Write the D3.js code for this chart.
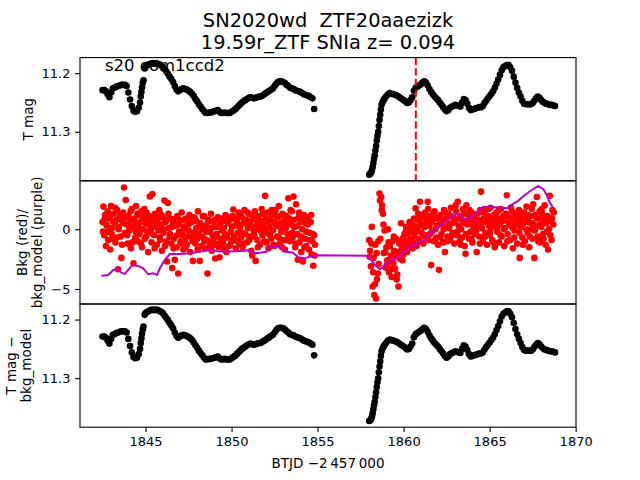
<!DOCTYPE html>
<html>
<head>
<meta charset="utf-8">
<script src="https://cdn.jsdelivr.net/npm/d3@7"></script>
<style>
body { margin: 0; background: #fff; }
text { font-family: "DejaVu Sans", sans-serif; }
</style>
</head>
<body>
<svg id="chart" width="640" height="480"></svg>
<script>
// title / annotation text
var titleLines = ["SN2020wd  ZTF20aaezizk", "19.59r_ZTF SNIa z= 0.094"];
var sectorLabel = "s20 com1ccd2";
var markTime = 1860.71; // red dashed line

// tick values
var xTicks = [1845, 1850, 1855, 1860, 1865, 1870];
var magTicks = [11.2, 11.3];
var bkgTicks = [0, -5];

// T mag, first orbit  [BTJD, mag]
var magSeg1 = [
[1842.50,11.229],[1842.60,11.229],[1842.70,11.231],[1842.80,11.236],[1842.90,11.241],[1843.00,11.233],
[1843.10,11.226],[1843.20,11.225],[1843.30,11.223],[1843.40,11.222],[1843.50,11.221],[1843.60,11.220],
[1843.70,11.220],[1843.80,11.220],[1843.90,11.222],[1844.00,11.233],[1844.10,11.245],[1844.20,11.256],
[1844.30,11.264],[1844.40,11.266],[1844.50,11.265],[1844.60,11.259],[1844.68,11.250],[1844.72,11.240],
[1844.76,11.232],[1844.80,11.224],[1844.84,11.217],[1844.88,11.212],[1844.95,11.192],[1845.00,11.189],
[1845.10,11.187],[1845.20,11.185],[1845.30,11.184],[1845.40,11.183],[1845.50,11.184],[1845.60,11.183],
[1845.70,11.184],[1845.80,11.185],[1845.90,11.187],[1846.00,11.189],[1846.10,11.193],[1846.20,11.197],
[1846.30,11.201],[1846.40,11.206],[1846.50,11.210],[1846.60,11.215],[1846.70,11.222],[1846.80,11.228],
[1846.90,11.231],[1847.00,11.229],[1847.10,11.227],[1847.20,11.226],[1847.30,11.227],[1847.40,11.228],
[1847.50,11.230],[1847.60,11.232],[1847.70,11.235],[1847.80,11.239],[1847.90,11.244],[1848.00,11.248],
[1848.10,11.253],[1848.20,11.257],[1848.30,11.261],[1848.40,11.265],[1848.50,11.268],[1848.60,11.268],
[1848.70,11.267],[1848.80,11.267],[1848.90,11.266],[1849.00,11.265],[1849.10,11.264],[1849.20,11.263],
[1849.30,11.266],[1849.40,11.268],[1849.50,11.268],[1849.60,11.267],[1849.70,11.268],[1849.80,11.268],
[1849.90,11.268],[1850.00,11.266],[1850.10,11.264],[1850.20,11.262],[1850.30,11.259],[1850.40,11.256],
[1850.50,11.253],[1850.60,11.250],[1850.70,11.248],[1850.80,11.246],[1850.90,11.244],[1851.00,11.242],
[1851.10,11.241],[1851.20,11.242],[1851.30,11.243],[1851.40,11.242],[1851.50,11.241],[1851.60,11.240],
[1851.70,11.240],[1851.80,11.238],[1851.90,11.236],[1852.00,11.234],[1852.10,11.232],[1852.20,11.230],
[1852.30,11.228],[1852.40,11.226],[1852.50,11.222],[1852.60,11.218],[1852.70,11.215],[1852.80,11.214],
[1852.90,11.214],[1853.00,11.215],[1853.10,11.217],[1853.20,11.220],[1853.30,11.222],[1853.40,11.225],
[1853.50,11.226],[1853.60,11.227],[1853.70,11.229],[1853.80,11.230],[1853.90,11.231],[1854.00,11.232],
[1854.10,11.234],[1854.20,11.236],[1854.30,11.237],[1854.40,11.238],[1854.50,11.239],[1854.60,11.241],
[1854.70,11.243],[1854.80,11.261]
];

// T mag, second orbit
var magSeg2 = [
[1858.00,11.373],[1858.04,11.372],[1858.08,11.371],[1858.12,11.369],[1858.16,11.365],[1858.20,11.360],
[1858.24,11.353],[1858.28,11.346],[1858.32,11.340],[1858.36,11.332],[1858.40,11.324],[1858.44,11.315],
[1858.48,11.307],[1858.52,11.300],[1858.56,11.290],[1858.60,11.280],[1858.64,11.271],[1858.68,11.262],
[1858.72,11.254],[1858.78,11.249],[1858.84,11.246],[1858.90,11.243],[1859.00,11.239],[1859.10,11.236],
[1859.20,11.234],[1859.30,11.235],[1859.40,11.236],[1859.50,11.237],[1859.60,11.238],[1859.70,11.240],
[1859.80,11.242],[1859.90,11.244],[1860.00,11.246],[1860.10,11.248],[1860.20,11.251],[1860.30,11.250],
[1860.40,11.246],[1860.50,11.241],[1860.60,11.230],[1860.70,11.225],[1860.80,11.223],[1860.90,11.221],
[1861.00,11.219],[1861.10,11.216],[1861.20,11.214],[1861.30,11.216],[1861.40,11.221],[1861.50,11.227],
[1861.60,11.232],[1861.70,11.236],[1861.80,11.240],[1861.90,11.243],[1862.00,11.246],[1862.10,11.250],
[1862.20,11.254],[1862.30,11.258],[1862.40,11.262],[1862.50,11.265],[1862.60,11.263],[1862.70,11.259],
[1862.80,11.257],[1862.90,11.256],[1863.00,11.254],[1863.10,11.255],[1863.20,11.256],[1863.30,11.257],
[1863.40,11.250],[1863.50,11.244],[1863.60,11.246],[1863.70,11.252],[1863.80,11.259],[1863.90,11.263],
[1864.00,11.262],[1864.10,11.261],[1864.20,11.260],[1864.30,11.259],[1864.40,11.258],[1864.50,11.258],
[1864.60,11.256],[1864.70,11.251],[1864.80,11.247],[1864.90,11.243],[1865.00,11.239],[1865.10,11.235],
[1865.20,11.231],[1865.30,11.225],[1865.40,11.218],[1865.50,11.211],[1865.60,11.203],[1865.70,11.195],
[1865.80,11.190],[1865.90,11.188],[1866.00,11.186],[1866.10,11.186],[1866.20,11.190],[1866.30,11.196],
[1866.40,11.206],[1866.50,11.216],[1866.60,11.225],[1866.70,11.233],[1866.80,11.240],[1866.90,11.247],
[1867.00,11.252],[1867.10,11.253],[1867.20,11.253],[1867.30,11.253],[1867.40,11.253],[1867.50,11.251],
[1867.60,11.247],[1867.70,11.243],[1867.80,11.240],[1867.90,11.242],[1868.00,11.246],[1868.10,11.249],
[1868.20,11.251],[1868.30,11.252],[1868.40,11.253],[1868.50,11.254],[1868.60,11.254],[1868.70,11.255],
[1868.80,11.256]
];

// bottom panel (T mag - bkg_model) reads the same as the top panel to within a pixel
var subSeg1 = magSeg1;
var subSeg2 = magSeg2;

// background flux, first orbit  [BTJD, bkg]
var bkgSeg1 = [
[1842.50,0.6],[1842.55,1.9],[1842.60,-0.5],[1842.65,1.2],[1842.70,-1.4],[1842.75,0.3],[1842.80,1.5],[1842.85,-0.2],[1842.90,0.9],[1842.95,-1.7],
[1843.00,1.95],[1843.05,0.1],[1843.10,-0.8],[1843.15,1.3],[1843.20,0.5],[1843.25,-1.1],[1843.30,0.8],[1843.35,1.6],[1843.40,-3.35],[1843.45,0.2],
[1843.50,1.0],[1843.55,-0.6],[1843.60,-2.4],[1843.65,0.7],[1843.70,1.4],[1843.75,3.5],[1843.80,-0.3],[1843.85,2.45],[1843.90,0.4],[1843.95,-1.2],
[1844.00,1.1],[1844.05,-0.1],[1844.10,0.8],[1844.15,-1.6],[1844.20,1.7],[1844.25,0.2],[1844.30,-2.85],[1844.35,0.9],[1844.40,-0.7],[1844.45,1.95],
[1844.50,0.3],[1844.55,-1.0],[1844.60,1.2],[1844.65,-0.4],[1844.70,0.6],[1844.75,1.5],[1844.80,-1.5],[1844.85,0.0],[1844.90,1.0],[1844.95,-0.8],
[1845.00,0.5],[1845.05,1.4],[1845.10,-0.2],[1845.15,-1.9],[1845.20,0.7],[1845.25,2.75],[1845.30,0.1],[1845.35,-1.1],[1845.40,2.95],[1845.45,0.9],
[1845.50,-0.5],[1845.55,1.3],[1845.60,0.2],[1845.65,-1.3],[1845.70,0.8],[1845.75,-0.1],[1845.80,1.6],[1845.85,-0.9],[1845.90,0.4],[1845.95,-1.8],
[1846.00,1.0],[1846.05,-0.3],[1846.10,2.4],[1846.15,0.6],[1846.20,-1.0],[1846.25,-2.7],[1846.30,2.2],[1846.35,0.1],[1846.40,-0.6],[1846.45,0.9],
[1846.50,-1.2],[1846.55,-3.25],[1846.60,0.5],[1846.65,-0.8],[1846.70,-2.55],[1846.75,0.3],[1846.80,-1.5],[1846.85,1.1],[1846.90,-3.7],[1846.95,-0.2],
[1847.00,0.7],[1847.05,-1.0],[1847.10,1.4],[1847.15,-0.5],[1847.20,-1.7],[1847.25,0.2],[1847.30,-0.9],[1847.35,0.9],[1847.40,-1.3],[1847.45,0.4],
[1847.50,-0.1],[1847.55,1.2],[1847.60,-1.9],[1847.65,-0.6],[1847.70,0.6],[1847.75,-2.65],[1847.80,-0.3],[1847.85,1.0],[1847.90,-1.2],[1847.95,0.1],
[1848.00,-0.8],[1848.05,1.5],[1848.10,-0.4],[1848.15,-2.65],[1848.20,0.5],[1848.25,-1.4],[1848.30,0.0],[1848.35,-0.7],[1848.40,1.1],[1848.45,-1.6],
[1848.50,0.3],[1848.55,-0.9],[1848.60,-3.7],[1848.65,0.8],[1848.70,-1.1],[1848.75,-0.2],[1848.80,1.3],[1848.85,-1.8],[1848.90,-0.5],[1848.95,0.6],
[1849.00,-1.3],[1849.05,-2.45],[1849.10,0.2],[1849.15,-0.6],[1849.20,1.0],[1849.25,-1.5],[1849.30,-2.35],[1849.35,0.4],[1849.40,-0.8],[1849.45,0.9],
[1849.50,-1.1],[1849.55,0.1],[1849.60,-0.4],[1849.65,1.2],[1849.70,-1.9],[1849.75,-0.7],[1849.80,0.5],[1849.85,-1.4],[1849.90,0.8],[1849.95,-0.2],
[1850.00,-1.0],[1850.05,1.1],[1850.10,1.65],[1850.15,-0.6],[1850.20,0.3],[1850.25,-1.6],[1850.30,0.7],[1850.35,-0.3],[1850.40,1.4],[1850.45,-1.2],
[1850.50,0.2],[1850.55,-0.7],[1850.60,1.0],[1850.65,-1.5],[1850.70,0.5],[1850.75,1.6],[1850.80,-0.4],[1850.85,0.8],[1850.90,-1.1],[1850.95,0.1],
[1851.00,1.3],[1851.05,-0.6],[1851.10,0.6],[1851.15,-1.8],[1851.20,-2.2],[1851.25,0.9],[1851.30,-0.2],[1851.35,1.5],[1851.40,-2.65],[1851.45,0.3],
[1851.50,-0.9],[1851.55,1.1],[1851.60,0.0],[1851.65,-1.3],[1851.70,0.7],[1851.75,1.7],[1851.80,-0.5],[1851.85,0.4],[1851.90,-1.0],[1851.95,2.8],
[1852.00,0.9],[1852.05,-0.3],[1852.10,1.4],[1852.15,-1.6],[1852.20,0.2],[1852.25,0.8],[1852.30,-0.8],[1852.35,1.2],[1852.40,-0.1],[1852.45,0.6],
[1852.50,-1.4],[1852.55,1.6],[1852.60,0.3],[1852.65,-0.6],[1852.70,1.0],[1852.75,1.95],[1852.80,-1.2],[1852.85,0.5],[1852.90,-0.2],[1852.95,1.3],
[1853.00,-0.9],[1853.05,0.7],[1853.10,-1.7],[1853.15,0.1],[1853.20,1.1],[1853.25,-0.4],[1853.30,2.6],[1853.35,0.9],[1853.40,-1.0],[1853.45,0.4],
[1853.50,1.5],[1853.55,-0.7],[1853.60,2.75],[1853.65,0.2],[1853.70,-1.5],[1853.75,2.1],[1853.80,-0.4],[1853.85,-2.55],[1853.90,1.0],[1853.95,-1.1],
[1854.00,0.6],[1854.05,-1.9],[1854.10,0.0],[1854.15,-2.7],[1854.20,1.2],[1854.25,-0.8],[1854.30,0.5],[1854.35,-1.4],[1854.40,0.8],[1854.45,1.0],
[1854.50,-1.7],[1854.55,-0.3],[1854.60,0.6],[1854.65,-2.1],[1854.70,-1.0],[1854.75,-3.05],[1854.80,-0.5],[1854.85,-1.3],
// in-between cadences
[1842.53,-0.2],[1842.63,0.9],[1842.73,0.4],[1842.83,-0.9],[1842.93,1.1],[1843.03,-0.4],[1843.13,0.6],[1843.23,1.8],[1843.33,-0.7],[1843.43,0.0],
[1843.53,1.2],[1843.63,-1.3],[1843.73,0.5],[1843.83,1.0],[1843.93,-0.5],[1844.03,0.3],[1844.13,1.5],[1844.23,-1.1],[1844.33,0.7],[1844.43,-0.2],
[1844.53,1.3],[1844.63,0.1],[1844.73,-1.2],[1844.83,0.8],[1844.93,1.7],[1845.03,-0.6],[1845.13,0.4],[1845.23,1.1],[1845.33,-0.3],[1845.43,0.6],
[1845.53,-1.6],[1845.63,1.0],[1845.73,0.3],[1845.83,-0.7],[1845.93,1.2],[1846.03,0.0],[1846.13,-1.4],[1846.23,0.8],[1846.33,1.3],[1846.43,-0.4],
[1846.53,0.2],[1846.63,-1.6],[1846.73,0.9],[1846.83,-0.5],[1846.93,0.4],[1847.03,-1.2],[1847.13,-0.2],[1847.23,0.8],[1847.33,-1.5],[1847.43,-0.6],
[1847.53,0.5],[1847.63,1.0],[1847.73,-1.0],[1847.83,-0.3],[1847.93,0.7],[1848.03,-1.7],[1848.13,0.3],[1848.23,-0.6],[1848.33,1.1],[1848.43,-1.0],
[1848.53,-0.2],[1848.63,0.6],[1848.73,-1.5],[1848.83,0.1],[1848.93,-0.9],[1849.03,0.8],[1849.13,-0.4],[1849.23,-1.2],[1849.33,0.5],[1849.43,-0.1],
[1849.53,-1.6],[1849.63,0.7],[1849.73,-0.5],[1849.83,1.0],[1849.93,-1.3],[1850.03,0.2],[1850.13,-0.8],[1850.23,0.9],[1850.33,-1.0],[1850.43,0.4],
[1850.53,1.2],[1850.63,-0.3],[1850.73,-1.2],[1850.83,0.6],[1850.93,1.4],[1851.03,-0.9],[1851.13,0.2],[1851.23,1.0],[1851.33,-0.6],[1851.43,0.8],
[1851.53,-1.5],[1851.63,0.4],[1851.73,-0.2],[1851.83,1.3],[1851.93,0.1],[1852.03,-1.1],[1852.13,0.7],[1852.23,-0.5],[1852.33,1.6],[1852.43,-1.3],
[1852.53,0.5],[1852.63,1.1],[1852.73,-0.7],[1852.83,0.2],[1852.93,-1.5],[1853.03,1.2],[1853.13,0.4],[1853.23,-0.9],[1853.33,0.7],[1853.43,1.6],
[1853.53,-0.3],[1853.63,0.8],[1853.73,-1.2],[1853.83,0.3],[1853.93,1.4],[1854.03,-0.6],[1854.13,0.9],[1854.23,-1.5],[1854.33,-0.2],[1854.43,0.4],
[1854.53,-0.9],[1854.63,1.2],[1854.73,-0.4],[1854.83,-2.2]
];

// background flux, second orbit
var bkgSeg2 = [
[1858.00,-0.9],[1858.05,-1.8],[1858.10,-3.1],[1858.15,0.2],[1858.20,-4.8],[1858.25,-2.4],[1858.30,-5.5],[1858.35,-1.3],[1858.40,-5.8],[1858.45,-4.2],
[1858.50,-3.7],[1858.55,-2.9],[1858.60,3.0],[1858.65,-0.8],[1858.70,2.7],[1858.75,2.0],[1858.80,1.3],[1858.85,-2.0],[1858.90,-0.1],[1858.95,-3.2],
[1859.00,-1.5],[1859.05,-2.6],[1859.10,0.0],[1859.15,-3.6],[1859.20,-1.4],[1859.25,-2.2],[1859.30,-4.0],[1859.35,-1.0],[1859.40,-2.8],[1859.45,-1.8],
[1859.50,-3.3],[1859.55,-0.8],[1859.60,-4.2],[1859.65,-2.0],[1859.70,-4.8],[1859.75,-1.2],[1859.80,-2.5],[1859.85,0.5],[1859.90,-1.6],[1859.95,-0.75],
[1860.00,-2.1],[1860.05,-0.4],[1860.10,-1.3],[1860.15,0.2],[1860.20,-1.9],[1860.25,-0.35],[1860.30,-0.9],[1860.35,0.6],[1860.40,-1.5],[1860.45,-0.2],
[1860.50,0.4],[1860.55,-1.1],[1860.60,0.9],[1860.65,-0.6],[1860.70,1.75],[1860.75,-1.4],[1860.80,0.1],[1860.85,1.3],[1860.90,-0.8],[1860.95,2.3],
[1861.00,0.5],[1861.05,-0.3],[1861.10,1.0],[1861.15,-1.2],[1861.20,0.2],[1861.25,1.4],[1861.30,-0.5],[1861.35,0.7],[1861.40,2.3],[1861.45,-0.9],
[1861.50,0.3],[1861.55,1.1],[1861.60,-3.0],[1861.65,-0.2],[1861.70,0.8],[1861.75,-1.0],[1861.80,1.5],[1861.85,0.0],[1861.90,-0.7],[1861.95,0.9],
[1862.00,-1.3],[1862.05,-3.4],[1862.10,0.4],[1862.15,1.2],[1862.20,-0.4],[1862.25,0.6],[1862.30,-1.1],[1862.35,1.6],[1862.40,-1.9],[1862.45,0.2],
[1862.50,0.9],[1862.55,-0.6],[1862.60,1.3],[1862.65,0.1],[1862.70,-0.9],[1862.75,1.8],[1862.80,0.5],[1862.85,-0.3],[1862.90,1.0],[1862.95,-1.2],
[1863.00,0.7],[1863.05,1.5],[1863.10,-0.5],[1863.15,2.3],[1863.20,0.3],[1863.25,-1.0],[1863.30,1.1],[1863.35,0.0],[1863.40,-0.7],[1863.45,1.7],
[1863.50,0.6],[1863.55,-1.4],[1863.60,-2.05],[1863.65,2.0],[1863.70,0.4],[1863.75,1.2],[1863.80,-0.8],[1863.85,0.8],[1863.90,-0.2],[1863.95,1.4],
[1864.00,-1.1],[1864.05,0.5],[1864.10,1.0],[1864.15,-0.4],[1864.20,0.2],[1864.25,-1.9],[1864.30,1.3],[1864.35,0.7],[1864.40,-0.6],[1864.45,1.6],
[1864.50,3.15],[1864.55,0.1],[1864.60,-1.0],[1864.65,0.9],[1864.70,1.5],[1864.75,-0.3],[1864.80,0.6],[1864.85,-1.3],[1864.90,1.1],[1864.95,0.3],
[1865.00,-0.5],[1865.05,1.8],[1865.10,0.8],[1865.15,-0.9],[1865.20,0.2],[1865.25,1.2],[1865.30,-1.5],[1865.35,0.5],[1865.40,1.4],[1865.45,-0.2],
[1865.50,0.9],[1865.55,-1.1],[1865.60,0.4],[1865.65,1.7],[1865.70,-0.6],[1865.75,0.7],[1865.80,1.1],[1865.85,-1.4],[1865.90,0.1],[1865.95,1.3],
[1866.00,2.85],[1866.05,-0.4],[1866.10,0.6],[1866.15,1.0],[1866.20,-0.9],[1866.25,0.3],[1866.30,1.5],[1866.35,-1.6],[1866.40,0.8],[1866.45,-0.1],
[1866.50,1.2],[1866.55,0.4],[1866.60,-1.2],[1866.65,0.9],[1866.70,1.6],[1866.75,-2.4],[1866.80,0.2],[1866.85,1.0],[1866.90,-0.7],[1866.95,0.5],
[1867.00,1.4],[1867.05,-1.0],[1867.10,0.7],[1867.15,1.9],[1867.20,-0.3],[1867.25,0.6],[1867.30,-1.5],[1867.35,1.1],[1867.40,0.0],[1867.45,1.7],
[1867.50,-0.8],[1867.55,0.4],[1867.60,-2.4],[1867.65,1.2],[1867.70,0.3],[1867.75,2.7],[1867.80,-0.6],[1867.85,0.9],[1867.90,1.5],[1867.95,-1.1],
[1868.00,0.2],[1868.05,1.3],[1868.10,-0.4],[1868.15,0.8],[1868.20,2.0],[1868.25,-1.3],[1868.30,0.5],[1868.35,1.1],[1868.40,-1.7],[1868.45,0.0],
[1868.50,2.8],[1868.55,0.7],[1868.60,-0.9],[1868.65,1.6],[1868.70,0.4],
// in-between cadences
[1858.03,-2.3],[1858.13,-1.2],[1858.23,-3.6],[1858.33,-4.6],[1858.43,-2.0],[1858.53,-1.0],[1858.63,2.4],[1858.73,1.6],[1858.83,0.4],[1858.93,-1.9],
[1859.03,-3.0],[1859.13,-1.1],[1859.23,-2.7],[1859.33,-3.3],[1859.43,-0.6],[1859.53,-2.3],[1859.63,-3.8],[1859.73,-1.9],[1859.83,-1.0],[1859.93,-2.6],
[1860.03,-1.5],[1860.13,-0.2],[1860.23,-1.1],[1860.33,0.1],[1860.43,-0.8],[1860.53,-1.6],[1860.63,0.3],[1860.73,-0.2],[1860.83,0.8],[1860.93,-1.0],
[1861.03,1.2],[1861.13,0.3],[1861.23,-0.6],[1861.33,0.9],[1861.43,1.7],[1861.53,-0.4],[1861.63,0.6],[1861.73,1.3],[1861.83,-0.9],[1861.93,0.3],
[1862.03,1.0],[1862.13,-0.7],[1862.23,0.8],[1862.33,0.0],[1862.43,1.4],[1862.53,-1.0],[1862.63,0.4],[1862.73,1.1],[1862.83,-0.5],[1862.93,0.6],
[1863.03,2.0],[1863.13,-0.2],[1863.23,0.9],[1863.33,-1.3],[1863.43,0.5],[1863.53,1.3],[1863.63,-0.4],[1863.73,0.7],[1863.83,1.6],[1863.93,-0.8],
[1864.03,0.3],[1864.13,1.2],[1864.23,-0.1],[1864.33,0.8],[1864.43,-1.2],[1864.53,0.5],[1864.63,1.4],[1864.73,-0.6],[1864.83,0.9],[1864.93,1.7],
[1865.03,-0.2],[1865.13,0.4],[1865.23,-1.1],[1865.33,1.0],[1865.43,0.2],[1865.53,1.6],[1865.63,-0.5],[1865.73,0.9],[1865.83,0.0],[1865.93,1.1],
[1866.03,-1.0],[1866.13,0.5],[1866.23,1.8],[1866.33,0.1],[1866.43,-0.7],[1866.53,0.7],[1866.63,1.3],[1866.73,-0.3],[1866.83,0.6],[1866.93,-1.3],
[1867.03,0.8],[1867.13,0.0],[1867.23,1.2],[1867.33,-0.6],[1867.43,0.5],[1867.53,2.1],[1867.63,-0.1],[1867.73,0.9],[1867.83,-1.0],[1867.93,0.4],
[1868.03,1.7],[1868.13,-0.8],[1868.23,0.6],[1868.33,-0.2],[1868.43,1.0],[1868.53,-0.5],[1868.63,0.9],[1868.73,1.4]
];

// bkg_model (purple line)
var bkgModel = [
[1842.44,-3.89],[1842.83,-3.83],[1843.12,-3.41],[1843.41,-3.35],[1843.60,-3.63],[1843.80,-3.74],[1843.99,-3.41],
[1844.24,-2.99],[1844.57,-3.07],[1844.86,-3.27],[1845.15,-3.77],[1845.44,-3.69],[1845.67,-3.83],[1845.83,-3.27],
[1846.12,-2.57],[1846.41,-2.07],[1846.99,-2.07],[1847.58,-2.01],[1848.16,-1.88],[1848.55,-1.79],[1848.84,-1.65],
[1849.13,-1.84],[1849.71,-1.88],[1850.29,-1.84],[1850.77,-1.79],[1851.06,-1.73],[1851.26,-2.01],[1851.64,-1.96],
[1852.03,-1.88],[1852.23,-1.40],[1852.61,-1.40],[1852.91,-1.54],[1853.20,-1.88],[1853.58,-1.96],[1853.87,-2.35],
[1854.26,-2.43],[1854.55,-2.29],[1854.94,-2.18],[1857.85,-2.21],[1858.04,-2.43],[1858.33,-2.99],[1858.62,-3.35],
[1858.78,-3.18],[1859.01,-2.80],[1859.40,-2.51],[1859.78,-2.24],[1860.08,-1.88],[1860.37,-1.46],[1860.66,-1.32],
[1860.95,-1.04],[1861.24,-0.90],[1861.53,-0.34],[1861.92,0.08],[1862.30,0.50],[1862.69,0.92],[1863.04,1.34],
[1863.37,1.01],[1863.66,0.78],[1863.95,1.06],[1864.24,1.34],[1864.63,1.89],[1865.02,1.84],[1865.50,1.84],
[1865.99,1.76],[1866.28,2.04],[1866.67,2.40],[1867.05,2.87],[1867.44,3.29],[1867.83,3.63],[1868.12,3.35],
[1868.32,2.87],[1868.47,2.31],[1868.66,1.89]
];

var svg = d3.select("#chart");
var mLeft = 80, mRight = 576, mTop = 57.6, mBottom = 427.2;
var ph = (mBottom - mTop) / 3;
var dotR = 3.3;

var x = d3.scaleLinear().domain([1841.19, 1870.02]).range([mLeft, mRight]);

// three stacked panels sharing the x axis
var panels = [
	{ y0: mTop,          domain: [11.3835, 11.1735], ticks: magTicks, fmt: d3.format(".1f"), label: ["T mag"],                           lx: [33] },
	{ y0: mTop + ph,     domain: [-6.26, 4.06],      ticks: bkgTicks, fmt: d3.format("d"),   label: ["Bkg (red)/", "bkg_model (purple)"], lx: [26.5, 42] },
	{ y0: mTop + 2 * ph, domain: [11.3835, 11.1735], ticks: magTicks, fmt: d3.format(".1f"), label: ["T mag \u2212", "bkg_model"],       lx: [15.5, 31] }
];

panels.forEach(function(p, i) {
	p.y = d3.scaleLinear().domain(p.domain).range([p.y0 + ph, p.y0]);
	svg.append("clipPath").attr("id", "clip" + i)
		.append("rect").attr("x", mLeft).attr("y", p.y0).attr("width", mRight - mLeft).attr("height", ph);
	p.g = svg.append("g").attr("clip-path", "url(#clip" + i + ")");

	var ax = svg.append("g").attr("transform", "translate(" + mLeft + ",0)")
		.call(d3.axisLeft(p.y).tickValues(p.ticks).tickFormat(p.fmt).tickSize(4.9).tickPadding(4.6));
	ax.select(".domain").remove();
	ax.selectAll("line").attr("stroke", "#000").attr("stroke-width", 1.1);
	ax.selectAll("text").attr("font-size", "13px").attr("font-family", "DejaVu Sans").attr("fill", "#000");

	var cy = p.y0 + ph / 2;
	p.label.forEach(function(s, k) {
		svg.append("text")
			.attr("transform", "translate(" + p.lx[k] + "," + cy + ") rotate(-90)")
			.attr("text-anchor", "middle")
			.attr("font-size", "13.5px")
			.text(s);
	});
});

function dots(g, data, y, color) {
	g.selectAll(null).data(data).enter().append("circle")
		.attr("cx", function(d) { return x(d[0]); })
		.attr("cy", function(d) { return y(d[1]); })
		.attr("r", dotR)
		.attr("fill", color);
}

// panel 1: light curve + dashed marker
dots(panels[0].g, magSeg1.concat(magSeg2), panels[0].y, "#000");
panels[0].g.append("line")
	.attr("x1", x(markTime)).attr("x2", x(markTime))
	.attr("y1", mTop).attr("y2", mTop + ph)
	.attr("stroke", "#ff0000").attr("stroke-width", 2)
	.attr("stroke-dasharray", "7.4,3.2");

// panel 2: background + model
dots(panels[1].g, bkgSeg1.concat(bkgSeg2), panels[1].y, "#ff0000");
panels[1].g.append("path")
	.datum(bkgModel)
	.attr("fill", "none")
	.attr("stroke", "#bf00c8")
	.attr("stroke-width", 2)
	.attr("d", d3.line().x(function(d) { return x(d[0]); }).y(function(d) { return panels[1].y(d[1]); }));

// panel 3: background-subtracted light curve
dots(panels[2].g, subSeg1.concat(subSeg2), panels[2].y, "#000");

// frames
panels.forEach(function(p) {
	svg.append("rect").attr("x", mLeft).attr("y", p.y0).attr("width", mRight - mLeft).attr("height", ph)
		.attr("fill", "none").attr("stroke", "#000").attr("stroke-width", 1.1);
});

// x axis on the bottom panel
var xa = svg.append("g").attr("transform", "translate(0," + mBottom + ")")
	.call(d3.axisBottom(x).tickValues(xTicks).tickFormat(d3.format("d")).tickSize(4.9).tickPadding(4.6));
xa.select(".domain").remove();
xa.selectAll("line").attr("stroke", "#000").attr("stroke-width", 1.1);
xa.selectAll("text").attr("font-size", "13px").attr("font-family", "DejaVu Sans").attr("fill", "#000");

svg.append("text")
	.attr("x", (mLeft + mRight) / 2).attr("y", 468)
	.attr("text-anchor", "middle").attr("font-size", "13.5px")
	.text("BTJD \u22122\u2009457\u2009000");

// annotation and title
svg.append("text").attr("x", 105).attr("y", 71).attr("font-size", "16.5px").text(sectorLabel);

titleLines.forEach(function(s, i) {
	svg.append("text")
		.attr("x", (mLeft + mRight) / 2).attr("y", 27.3 + i * 22)
		.attr("text-anchor", "middle").attr("font-size", "19.4px")
		.style("white-space", "pre")
		.text(s);
});
</script>
</body>
</html>
